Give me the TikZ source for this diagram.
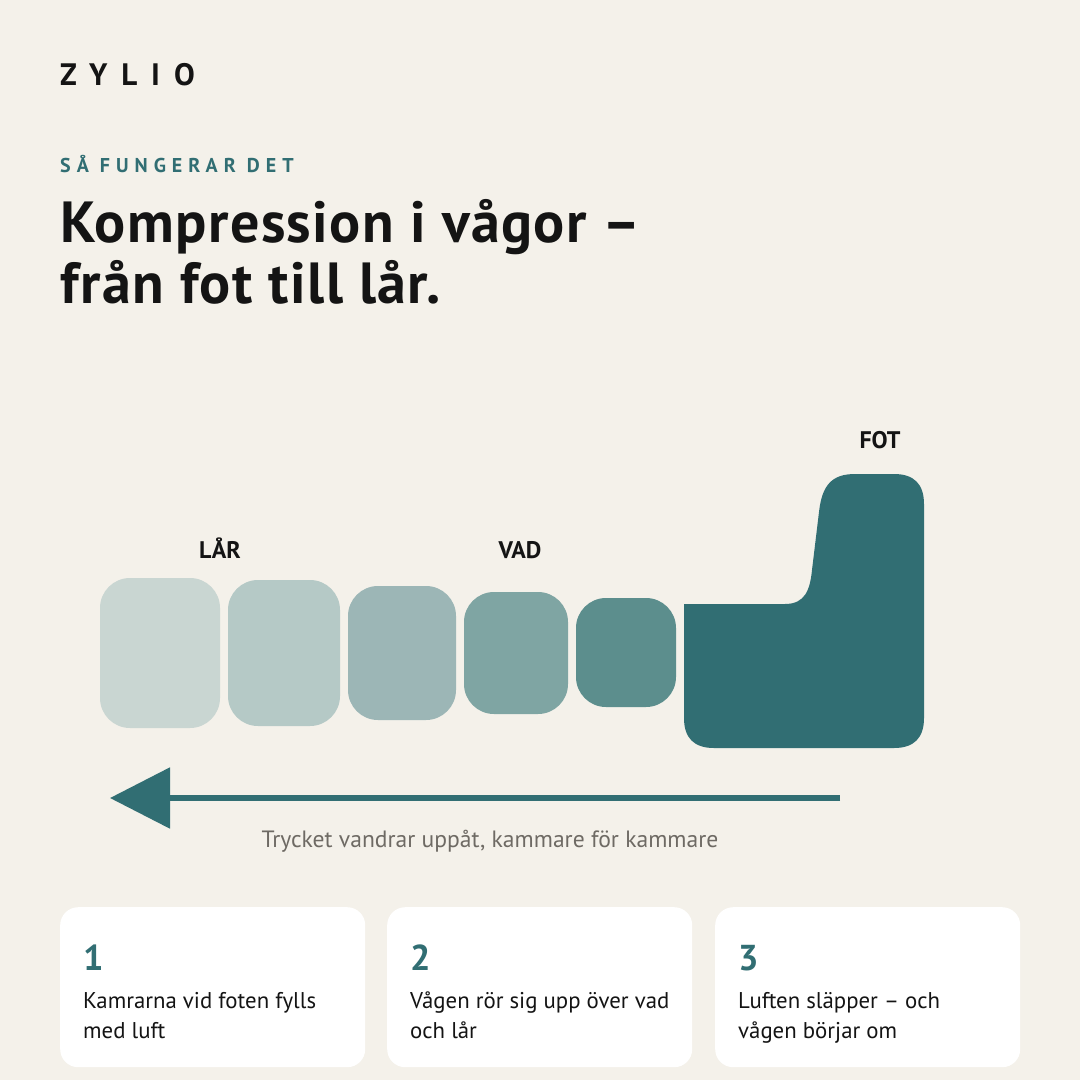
\documentclass[tikz,border=0pt]{standalone}
\usepackage{fontspec}
\setmainfont{PT Sans}
\usetikzlibrary{arrows.meta,positioning}
\definecolor{bg}{HTML}{F4F1EA}
\definecolor{zteal}{HTML}{316E73}
\definecolor{ink}{HTML}{141414}
\definecolor{mute}{HTML}{6E6A64}
\definecolor{lvlA}{HTML}{C9D6D2}
\definecolor{lvlB}{HTML}{B5C9C6}
\definecolor{lvlC}{HTML}{9CB6B6}
\definecolor{lvlD}{HTML}{7FA5A3}
\definecolor{lvlE}{HTML}{5C8E8D}

\begin{document}
\begin{tikzpicture}[x=1pt, y=1pt,
  chamber/.style={rectangle, rounded corners=30pt, inner sep=0pt},
  zone/.style={font=\fontsize{24}{28}\selectfont\bfseries, text=ink, inner sep=0pt, anchor=base},
  card/.style={rectangle, fill=white, rounded corners=18pt, minimum width=305pt, minimum height=160pt, inner sep=0pt, anchor=north west},
  stepnum/.style={font=\fontsize{36}{40}\selectfont\bfseries, text=zteal, inner sep=0pt, anchor=base west},
  steptext/.style={font=\fontsize{22.8}{29.5}\selectfont, text=ink, align=left, inner sep=0pt, anchor=base west},
  flow/.style={draw=zteal, line width=5.5pt, -{Triangle[length=60pt, width=60pt]}},
]
\fill[bg] (0,0) rectangle (1080,-1080);
\useasboundingbox (0,0) rectangle (1080,-1080);

% header
\node[anchor=base west, inner sep=0pt, text=ink, font=\fontsize{31}{31}\selectfont\bfseries\addfontfeature{LetterSpace=45}] (brand) at (60,-85) {ZYLIO};
\node[anchor=base west, inner sep=0pt, text=zteal, font=\fontsize{20}{20}\selectfont\bfseries\addfontfeature{LetterSpace=30}] (kicker) at (60,-172) {SÅ FUNGERAR DET};
\node[anchor=base west, inner sep=0pt, text=ink, align=left, font=\fontsize{58}{61}\selectfont\bfseries\addfontfeature{LetterSpace=2.5}] (title) at (60,-303) {Kompression i vågor –\\från fot till lår.};

% chambers
\node[chamber, fill=lvlA, minimum width=120pt, minimum height=150pt] (ch1) at (160,-653) {};
\node[chamber, fill=lvlB, minimum width=112pt, minimum height=146pt] (ch2) at (284,-653) {};
\node[chamber, fill=lvlC, minimum width=108pt, minimum height=134pt] (ch3) at (402,-653) {};
\node[chamber, fill=lvlD, minimum width=104pt, minimum height=122pt] (ch4) at (516,-653) {};
\node[chamber, fill=lvlE, minimum width=100pt, minimum height=109pt] (ch5) at (626,-652.5) {};
\fill[zteal] (684,-604) -- (785,-604) .. controls (805,-604) and (810,-590) .. (812,-570)
  -- (819,-512) .. controls (822,-485) and (832,-474) .. (855,-474) -- (894,-474)
  .. controls (914,-474) and (924,-484) .. (924,-504) -- (924,-718)
  .. controls (924,-738) and (914,-748) .. (894,-748) -- (714,-748)
  .. controls (694,-748) and (684,-738) .. (684,-718) -- cycle;

\node[zone] (thigh) at (220,-558) {LÅR};
\node[zone] (calf) at (520,-558) {VAD};
\node[zone] (foot) at (880,-448) {FOT};

% wave direction
\coordinate (wavestart) at (840,-798);
\coordinate (waveend) at (110,-798);
\draw[flow] (wavestart) -- (waveend);
\node[anchor=base, inner sep=0pt, text=mute, font=\fontsize{23.6}{27}\selectfont] (caption) at (490,-847) {Trycket vandrar uppåt, kammare för kammare};

% steps
\node[card] (card1) at (60,-907) {};
\node[card] (card2) at (387,-907) {};
\node[card] (card3) at (715,-907) {};
\node[stepnum] (num1) at ([shift={(23,-63)}]card1.north west) {1};
\node[stepnum] (num2) at ([shift={(23,-63)}]card2.north west) {2};
\node[stepnum] (num3) at ([shift={(23,-63)}]card3.north west) {3};
\node[steptext] (txt1) at ([shift={(23,-131)}]card1.north west) {Kamrarna vid foten fylls\\med luft};
\node[steptext] (txt2) at ([shift={(23,-131)}]card2.north west) {Vågen rör sig upp över vad\\och lår};
\node[steptext] (txt3) at ([shift={(23,-131)}]card3.north west) {Luften släpper – och\\vågen börjar om};
\end{tikzpicture}
\end{document}
